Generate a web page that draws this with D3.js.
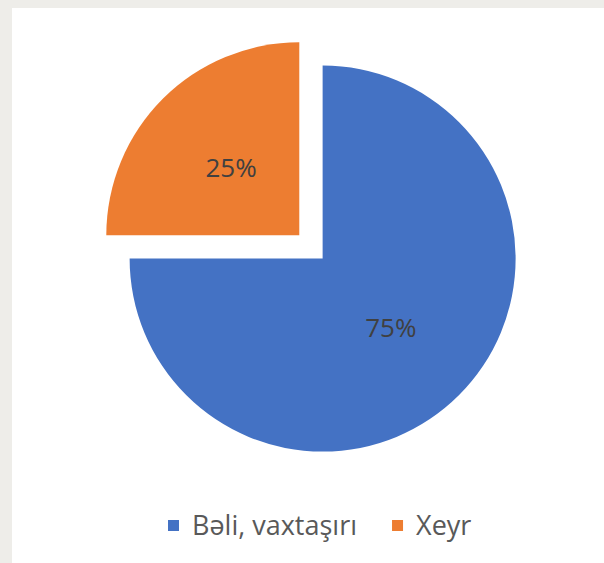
<!DOCTYPE html>
<html>
<head>
<meta charset="utf-8">
<script src="https://cdn.jsdelivr.net/npm/d3@7"></script>
<style>
	html, body { margin: 0; padding: 0; background: #eeede9; }
	svg { display: block; }
</style>
</head>
<body>
<div id="chart"></div>
<script>
// chart values
const categories = ["Bəli, vaxtaşırı", "Xeyr"]
const values = [75, 25]
const colors = ["#4472C4", "#ED7D31"]
// how far each slice is pulled out of the pie
const explode = [3, 30]

const params = {
	selector: "#chart",
	width: 604,
	height: 563,
	cx: 320.5,
	cy: 256.5,
	radius: 193
}

const makeContainer = (params) => {
	const container = d3.select(params.selector)
		.append("svg")
		.attr("width", params.width)
		.attr("height", params.height)

	// white chart panel on the grey page
	container.append("rect")
		.attr("x", 12)
		.attr("y", 8)
		.attr("width", params.width - 12)
		.attr("height", params.height - 8)
		.attr("fill", "#ffffff")

	return container;
}

const drawPie = (container, params) => {
	const data = categories.map((c, i) => ({ name: c, value: values[i], color: colors[i], explode: explode[i] }))
	const total = d3.sum(values)

	const pie = d3.pie()
		.value(d => d.value)
		.sort(null)

	const arc = d3.arc()
		.innerRadius(0)
		.outerRadius(params.radius)

	const g = container.append("g")
		.attr("transform", `translate(${params.cx}, ${params.cy})`)

	const slices = g.selectAll("g.slice")
		.data(pie(data))
		.join("g")
		.attr("class", "slice")
		.attr("transform", d => {
			const mid = (d.startAngle + d.endAngle) / 2
			const dx = Math.sin(mid) * d.data.explode
			const dy = -Math.cos(mid) * d.data.explode
			return `translate(${dx}, ${dy})`
		})

	slices.append("path")
		.attr("d", arc)
		.attr("fill", d => d.data.color)

	slices.append("text")
		.attr("transform", d => `translate(${arc.centroid(d)})`)
		.attr("text-anchor", "middle")
		.attr("dominant-baseline", "central")
		.attr("font-family", "'Open Sans', sans-serif")
		.attr("font-size", "26px")
		.attr("fill", "#404040")
		.text(d => Math.round(d.data.value / total * 100) + "%")
}

const drawLegend = (container, params) => {
	const legend = container.append("g")
		.attr("transform", "translate(168, 535)")

	let x = 0
	categories.forEach((c, i) => {
		const item = legend.append("g")
			.attr("transform", `translate(${x}, 0)`)
		item.append("rect")
			.attr("x", 0)
			.attr("y", -15)
			.attr("width", 11)
			.attr("height", 11)
			.attr("fill", colors[i])
		const t = item.append("text")
			.attr("x", 24)
			.attr("y", 0)
			.attr("font-family", "'Open Sans', sans-serif")
			.attr("font-size", "27px")
			.attr("fill", "#595959")
			.text(c)
		x += 24 + t.node().getComputedTextLength() + 35
	})
}

const main = (params) => {
	const container = makeContainer(params)
	drawPie(container, params)
	drawLegend(container, params)
}

main(params)
</script>
</body>
</html>
